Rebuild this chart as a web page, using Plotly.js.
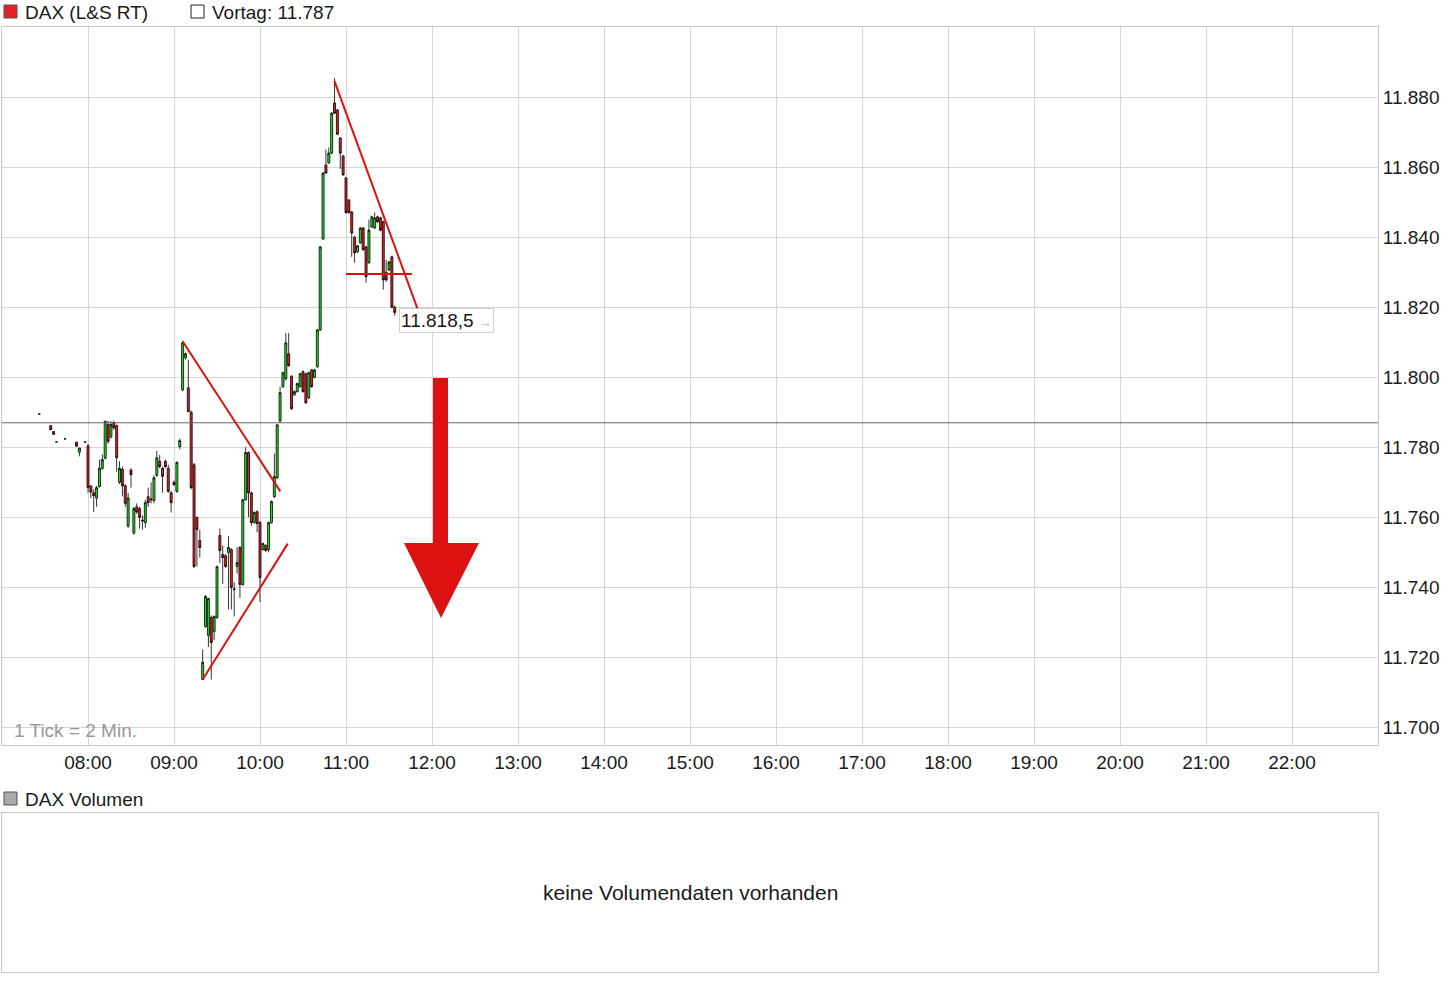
<!DOCTYPE html>
<html>
<head>
<meta charset="utf-8">
<script src="https://cdn.plot.ly/plotly-3.0.1.min.js"></script>
<style>html,body{margin:0;padding:0;background:#fff;}#chart{width:1452px;height:992px;}</style>
</head>
<body>
<div id="chart"></div>
<script>
const DAY = '2015-04-17';
const times = ['07:26','07:34','07:36','07:38','07:44','07:52','07:54','07:58',
'08:00','08:02','08:04','08:06','08:08','08:10','08:12','08:14','08:16','08:18','08:20','08:22','08:24','08:26','08:28','08:30','08:32','08:34','08:36','08:38','08:40','08:42','08:44','08:46','08:48','08:50','08:52','08:54','08:56','08:58',
'09:00','09:02','09:04','09:06','09:08','09:10','09:12','09:14','09:16','09:18','09:20','09:22','09:24','09:26','09:28','09:30','09:32','09:34','09:36','09:38','09:40','09:42','09:44','09:46','09:48','09:50','09:52','09:54','09:56','09:58',
'10:00','10:02','10:04','10:06','10:08','10:10','10:12','10:14','10:16','10:18','10:20','10:22','10:24','10:26','10:28','10:30','10:32','10:34','10:36','10:38','10:40','10:42','10:44','10:46','10:48','10:50','10:52','10:54','10:56','10:58',
'11:00','11:02','11:04','11:06','11:08','11:10','11:12','11:14','11:16','11:18','11:20','11:22','11:24','11:26','11:28','11:30','11:32','11:34'];
const opens = [11789.5,11786.2,11784.5,11781.5,11782.4,11781.5,11778.6,11781.5,
11780.4,11769.0,11767.0,11765.5,11768.8,11774.0,11776.9,11786.5,11783.0,11787.0,11786.2,11770.0,11773.7,11769.0,11757.5,11773.5,11755.5,11763.0,11762.5,11759.2,11758.5,11765.9,11765.0,11764.8,11772.0,11776.0,11774.0,11776.0,11774.0,11767.0,
11770.0,11767.4,11780.2,11796.4,11805.6,11797.0,11790.0,11775.0,11760.0,11753.4,11713.7,11728.8,11726.3,11731.4,11727.4,11731.4,11754.8,11749.4,11749.0,11750.0,11750.8,11739.6,11746.0,11751.4,11740.8,11765.0,11778.5,11767.0,11758.5,11761.6,
11758.5,11750.8,11752.0,11750.8,11758.5,11765.9,11771.3,11787.5,11797.3,11799.6,11806.7,11800.3,11795.0,11795.9,11797.3,11801.6,11801.0,11794.1,11802.1,11800.0,11803.0,11813.5,11839.5,11860.6,11861.2,11864.0,11878.3,11876.3,11868.3,11863.2,
11856.9,11850.6,11847.2,11840.0,11835.8,11838.4,11842.6,11837.2,11832.7,11842.9,11842.6,11845.8,11845.5,11844.4,11830.0,11830.6,11834.4,11820.0];
const highs = [11789.5,11786.2,11784.5,11781.5,11782.4,11781.5,11779.8,11781.5,
11781.0,11769.0,11768.0,11769.0,11776.5,11778.0,11787.6,11787.6,11787.5,11787.6,11786.5,11776.0,11774.5,11769.5,11767.0,11774.0,11763.0,11764.0,11763.0,11760.5,11765.0,11768.5,11770.0,11772.0,11779.0,11777.8,11774.5,11776.5,11775.0,11767.5,
11770.5,11776.0,11782.5,11810.4,11807.0,11805.0,11790.5,11775.5,11760.0,11756.5,11722.3,11737.8,11737.0,11732.0,11732.0,11746.2,11756.8,11752.0,11749.5,11754.6,11751.2,11741.5,11751.5,11751.8,11765.3,11780.0,11778.8,11767.3,11761.7,11762.0,
11759.0,11752.8,11752.3,11758.8,11764.8,11778.2,11786.7,11797.3,11801.6,11812.6,11812.6,11800.6,11796.2,11798.5,11801.3,11801.9,11801.3,11801.6,11802.4,11802.4,11813.8,11837.5,11858.6,11865.0,11865.6,11875.7,11885.4,11876.6,11868.6,11863.5,
11857.2,11850.9,11847.5,11840.3,11837.8,11842.9,11842.9,11837.5,11845.0,11846.1,11847.0,11846.1,11845.8,11844.7,11833.5,11833.2,11834.7,11820.5];
const lows = [11789.5,11785.0,11783.7,11781.5,11782.4,11780.3,11777.4,11781.5,
11767.0,11765.5,11761.5,11763.0,11768.5,11773.5,11776.5,11781.0,11782.5,11785.0,11773.0,11769.5,11766.0,11763.0,11757.0,11768.5,11755.0,11761.0,11756.8,11756.5,11757.0,11763.0,11764.0,11764.0,11771.5,11774.0,11767.0,11774.0,11767.0,11761.4,
11769.0,11767.0,11779.4,11796.0,11805.0,11790.0,11768.0,11745.5,11746.0,11748.5,11713.5,11728.5,11723.0,11713.7,11725.0,11731.0,11747.0,11741.0,11745.5,11733.7,11733.7,11731.7,11744.0,11737.0,11740.5,11764.8,11760.0,11757.6,11758.2,11755.7,
11735.8,11750.5,11750.2,11750.0,11758.2,11765.5,11771.0,11787.0,11797.0,11799.0,11803.0,11790.7,11794.7,11795.6,11797.0,11795.6,11792.4,11793.8,11797.0,11799.7,11802.7,11813.2,11839.2,11858.0,11860.9,11863.7,11875.1,11869.1,11859.5,11857.5,
11846.7,11846.7,11834.4,11832.7,11835.5,11838.1,11836.1,11827.0,11832.4,11842.6,11842.3,11844.1,11841.7,11825.0,11827.2,11830.3,11819.7,11817.6];
const closes = [11789.5,11785.0,11783.7,11781.5,11782.4,11780.3,11779.8,11781.5,
11768.5,11767.2,11766.2,11768.5,11774.0,11776.5,11787.4,11781.7,11786.5,11785.6,11777.0,11774.0,11769.0,11764.0,11765.5,11772.2,11762.5,11761.5,11760.0,11759.0,11764.2,11764.2,11765.2,11771.3,11777.0,11774.5,11771.7,11774.5,11767.4,11764.2,
11769.3,11775.7,11781.9,11809.8,11806.7,11790.2,11768.5,11746.0,11756.5,11751.4,11718.6,11737.4,11736.8,11724.3,11731.7,11745.9,11750.5,11748.5,11746.0,11751.4,11740.0,11739.4,11747.1,11740.8,11765.0,11778.5,11767.0,11758.5,11761.4,11758.2,
11742.8,11752.5,11750.5,11758.5,11764.5,11771.6,11786.4,11795.6,11801.3,11809.8,11803.3,11791.0,11795.9,11798.2,11801.0,11795.9,11792.7,11801.3,11797.3,11802.1,11813.5,11837.2,11858.3,11858.3,11864.0,11875.4,11875.4,11869.4,11864.0,11857.8,
11847.0,11847.0,11841.2,11835.5,11837.5,11842.6,11836.4,11828.7,11842.0,11845.8,11845.5,11844.4,11842.0,11827.8,11827.8,11832.9,11820.0,11818.5];
const vortag = 11787;
const lastPrice = 11818.5;
const yTicks = [11700,11720,11740,11760,11780,11800,11820,11840,11860,11880];
const xTickLabels = ['08:00','09:00','10:00','11:00','12:00','13:00','14:00','15:00','16:00','17:00','18:00','19:00','20:00','21:00','22:00'];

const T = s => DAY + ' ' + s;

const candles = {
  type: 'candlestick',
  x: times.map(T), open: opens, high: highs, low: lows, close: closes,
  increasing: {line: {color: '#000', width: 0.8}, fillcolor: '#1ee01e'},
  decreasing: {line: {color: '#000', width: 0.8}, fillcolor: '#ee1c24'},
  whiskerwidth: 0,
  hoverinfo: 'skip',
  xaxis: 'x', yaxis: 'y'
};
const volDummy = {type: 'scatter', x: [], y: [], xaxis: 'x2', yaxis: 'y2', hoverinfo: 'skip'};

// paper helpers (plot area: x 2..1378, y 27..972 px)
const px = v => (v - 2) / 1376;
const py = v => (972 - v) / 945;

const red = '#dd1111';
const shapes = [
  {type: 'line', xref: 'paper', yref: 'y', x0: 0, x1: 1, y0: vortag, y1: vortag, line: {color: '#666', width: 1}},
  {type: 'line', xref: 'x', yref: 'y', x0: T('09:06:06'), y0: 11810.2, x1: T('10:14:12'), y1: 11767.4, line: {color: red, width: 2}},
  {type: 'line', xref: 'x', yref: 'y', x0: T('09:20:00'), y0: 11713.7, x1: T('10:19:24'), y1: 11752.5, line: {color: red, width: 2}},
  {type: 'line', xref: 'x', yref: 'y', x0: T('10:51:54'), y0: 11884.6, x1: T('11:55:54'), y1: 11812.8, line: {color: red, width: 2}},
  {type: 'line', xref: 'x', yref: 'y', x0: T('11:00'), y0: 11829.5, x1: T('11:46'), y1: 11829.5, line: {color: red, width: 2}},
  {type: 'path', xref: 'paper', yref: 'paper', fillcolor: red, line: {width: 0},
   path: `M${px(433)},${py(378)} L${px(448)},${py(378)} L${px(448)},${py(543)} L${px(479)},${py(543)} L${px(441)},${py(618)} L${px(404)},${py(543)} L${px(433)},${py(543)} Z`},
  {type: 'rect', xref: 'paper', yref: 'paper', x0: px(4), x1: px(17), y0: py(18), y1: py(5), fillcolor: '#e8202a', line: {color: '#555', width: 1}},
  {type: 'rect', xref: 'paper', yref: 'paper', x0: px(191), x1: px(204), y0: py(18), y1: py(5), fillcolor: '#fff', line: {color: '#222', width: 1}},
  {type: 'rect', xref: 'paper', yref: 'paper', x0: px(4), x1: px(17), y0: py(805), y1: py(792), fillcolor: '#aaaaaa', line: {color: '#555', width: 1}}
];

const txt = '#1a1a1a';
const annotations = [
  {xref: 'paper', yref: 'paper', x: px(23), y: py(12), xanchor: 'left', yanchor: 'middle', showarrow: false, text: 'DAX (L&S RT)', font: {size: 19, color: txt}},
  {xref: 'paper', yref: 'paper', x: px(210), y: py(12), xanchor: 'left', yanchor: 'middle', showarrow: false, text: 'Vortag: 11.787', font: {size: 19, color: txt}},
  {xref: 'paper', yref: 'paper', x: px(23), y: py(799), xanchor: 'left', yanchor: 'middle', showarrow: false, text: 'DAX Volumen', font: {size: 19, color: txt}},
  {xref: 'paper', yref: 'paper', x: px(691), y: py(892), xanchor: 'center', yanchor: 'middle', showarrow: false, text: 'keine Volumendaten vorhanden', font: {size: 21, color: txt}},
  {xref: 'paper', yref: 'paper', x: px(12), y: py(730), xanchor: 'left', yanchor: 'middle', showarrow: false, text: '1 Tick = 2 Min.', font: {size: 19, color: '#999'}},
  {xref: 'x', yref: 'y', x: T('11:37'), y: 11816.2, xanchor: 'left', yanchor: 'middle', showarrow: false,
   text: '11.818,5 <span style="color:#aaa;font-size:13px">\u2192</span>', font: {size: 19, color: txt},
   bgcolor: '#fff', bordercolor: '#d0d0d0', borderwidth: 1, borderpad: 1}
];

const grid = '#d6d6d6';
const border = '#c8c8c8';
const layout = {
  width: 1452, height: 992,
  margin: {l: 2, r: 74, t: 27, b: 20},
  paper_bgcolor: '#fff', plot_bgcolor: '#fff',
  separators: ',.',
  showlegend: false,
  font: {family: 'Liberation Sans, Arial, sans-serif', size: 19, color: txt},
  xaxis: {
    type: 'date', anchor: 'y', range: [T('07:00'), T('23:00')],
    tickvals: xTickLabels.map(T), ticktext: xTickLabels,
    showgrid: true, gridcolor: grid, gridwidth: 1,
    showline: true, mirror: true, linecolor: border, linewidth: 1,
    zeroline: false, ticks: '', rangeslider: {visible: false},
    tickfont: {size: 19, color: txt}
  },
  yaxis: {
    domain: [py(745), 1], anchor: 'x', side: 'right',
    range: [11695, 11900], tickvals: yTicks, tickformat: ',.0f',
    showgrid: true, gridcolor: grid, gridwidth: 1,
    showline: true, mirror: true, linecolor: border, linewidth: 1,
    zeroline: false, ticks: '', tickfont: {size: 19, color: txt}
  },
  xaxis2: {
    type: 'date', anchor: 'y2', range: [T('07:00'), T('23:00')],
    showticklabels: false, showgrid: false, zeroline: false,
    showline: true, mirror: true, linecolor: border, linewidth: 1, ticks: ''
  },
  yaxis2: {
    domain: [0, py(813)], anchor: 'x2', range: [0, 1],
    showticklabels: false, showgrid: false, zeroline: false,
    showline: true, mirror: true, linecolor: border, linewidth: 1, ticks: ''
  },
  shapes: shapes,
  annotations: annotations,
  boxgap: 0
};

Plotly.newPlot('chart', [candles, volDummy], layout, {displayModeBar: false, staticPlot: true});
</script>
</body>
</html>
